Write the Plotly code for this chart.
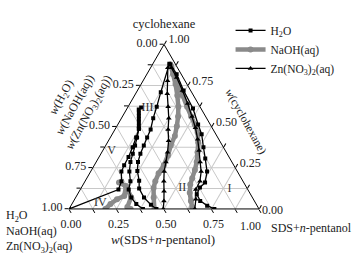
import plotly.graph_objects as go

# ---------------- data (cyclohexane, H2O/aq, SDS+n-pentanol mass fractions) ----------------
tick_vals = [0, 0.125, 0.25, 0.375, 0.5, 0.625, 0.75, 0.875, 1.0]
a_tick_labels = ["1.00", "", "0.75", "", "0.50", "", "0.25", "", "0.00"]   # left edge: w(H2O)
b_tick_labels = ["", "", "0.75", "", "0.50", "", "0.25", "", "0.00"]       # bottom edge: w(SDS+n-pentanol)
c_tick_labels = ["1.00", "", "0.75", "", "0.50", "", "0.25", "", ""]       # right edge: w(cyclohexane)
corner_labels = ["1.00", "0.00"]   # bottom-right corner values (SDS axis end, cyclohexane axis start)

# H2O system (boundary curves)
h2o_1_cyc = [0.882, 0.710, 0.621, 0.552, 0.483, 0.434, 0.385, 0.335, 0.286, 0.231, 0.172, 0.124, 0.069, 0.026, 0.0]
h2o_1_wat = [0.031, 0.162, 0.228, 0.281, 0.329, 0.372, 0.414, 0.457, 0.494, 0.525, 0.545, 0.569, 0.571, 0.556, 0.540]
h2o_1_sds = [0.087, 0.128, 0.151, 0.167, 0.188, 0.194, 0.201, 0.208, 0.220, 0.244, 0.283, 0.307, 0.360, 0.418, 0.460]

h2o_2_cyc = [0.617, 0.604, 0.585, 0.565, 0.545, 0.525, 0.505, 0.487, 0.434, 0.385, 0.335, 0.286, 0.227, 0.168, 0.118, 0.069, 0.030, 0.0]
h2o_2_wat = [0.312, 0.331, 0.340, 0.350, 0.360, 0.370, 0.380, 0.389, 0.425, 0.460, 0.497, 0.534, 0.569, 0.593, 0.627, 0.638, 0.631, 0.611]
h2o_2_sds = [0.071, 0.065, 0.075, 0.085, 0.095, 0.105, 0.115, 0.124, 0.141, 0.155, 0.168, 0.180, 0.204, 0.239, 0.255, 0.293, 0.339, 0.389]

h2o_3_cyc = [0.487, 0.434, 0.375, 0.316, 0.266, 0.227, 0.168, 0.118, 0.0]
h2o_3_wat = [0.389, 0.430, 0.478, 0.529, 0.577, 0.611, 0.640, 0.681, 1.0]
h2o_3_sds = [0.124, 0.136, 0.147, 0.155, 0.157, 0.162, 0.192, 0.201, 0.0]

h2o_4_cyc = [0.878, 0.819, 0.720, 0.611, 0.513, 0.454, 0.375, 0.306, 0.227, 0.160, 0.130, 0.089, 0.049, 0.020, 0.0]
h2o_4_wat = [0.028, 0.024, 0.037, 0.042, 0.064, 0.075, 0.105, 0.130, 0.160, 0.204, 0.246, 0.283, 0.285, 0.263, 0.235]
h2o_4_sds = [0.094, 0.157, 0.243, 0.347, 0.423, 0.471, 0.520, 0.564, 0.613, 0.636, 0.624, 0.628, 0.666, 0.717, 0.765]

# NaOH(aq) system
naoh_1_cyc = [0.878, 0.819, 0.759, 0.690, 0.621, 0.562, 0.503, 0.444, 0.385, 0.325, 0.266, 0.217, 0.168, 0.128, 0.069, 0.0]
naoh_1_wat = [0.028, 0.043, 0.060, 0.085, 0.114, 0.145, 0.181, 0.221, 0.272, 0.317, 0.368, 0.420, 0.462, 0.491, 0.520, 0.551]
naoh_1_sds = [0.094, 0.138, 0.181, 0.225, 0.265, 0.293, 0.316, 0.335, 0.343, 0.358, 0.366, 0.363, 0.370, 0.381, 0.411, 0.449]

naoh_2_cyc = [0.868, 0.819, 0.759, 0.690, 0.621, 0.562, 0.513, 0.464, 0.404, 0.345, 0.286, 0.237, 0.187, 0.148, 0.099, 0.049, 0.010]
naoh_2_wat = [0.029, 0.035, 0.047, 0.057, 0.068, 0.076, 0.082, 0.091, 0.118, 0.151, 0.185, 0.219, 0.258, 0.288, 0.315, 0.334, 0.346]
naoh_2_sds = [0.103, 0.146, 0.194, 0.253, 0.311, 0.362, 0.405, 0.445, 0.478, 0.504, 0.529, 0.544, 0.555, 0.564, 0.586, 0.617, 0.644]

naoh_3_cyc = [0.160, 0.138, 0.071, 0.012, 0.0]
naoh_3_wat = [0.657, 0.631, 0.638, 0.687, 0.676]
naoh_3_sds = [0.183, 0.231, 0.291, 0.301, 0.324]

naoh_4_cyc = [0.138, 0.079, 0.059, 0.030, 0.0]
naoh_4_wat = [0.631, 0.670, 0.718, 0.767, 0.809]
naoh_4_sds = [0.231, 0.251, 0.223, 0.203, 0.191]

# Zn(NO3)2(aq) system
zn_1_cyc = [0.858, 0.779, 0.700, 0.621, 0.552, 0.483, 0.414, 0.345, 0.286, 0.227, 0.168, 0.108, 0.049, 0.0]
zn_1_wat = [0.051, 0.092, 0.133, 0.168, 0.199, 0.237, 0.269, 0.309, 0.347, 0.386, 0.417, 0.446, 0.476, 0.504]
zn_1_sds = [0.091, 0.129, 0.167, 0.211, 0.249, 0.280, 0.317, 0.346, 0.367, 0.387, 0.415, 0.446, 0.475, 0.496]

zn_2_cyc = [0.858, 0.799, 0.720, 0.641, 0.562, 0.493, 0.424, 0.355, 0.286, 0.227, 0.168, 0.118, 0.059, 0.0]
zn_2_wat = [0.032, 0.034, 0.043, 0.055, 0.072, 0.088, 0.111, 0.138, 0.167, 0.191, 0.227, 0.274, 0.303, 0.338]
zn_2_sds = [0.110, 0.167, 0.237, 0.304, 0.366, 0.419, 0.465, 0.507, 0.547, 0.582, 0.605, 0.608, 0.638, 0.662]

# region labels
region_names = ["I", "II", "III", "IV", "V"]
region_cyc = [0.124, 0.130, 0.615, 0.036, 0.355]
region_wat = [0.093, 0.339, 0.279, 0.817, 0.599]
region_sds = [0.783, 0.531, 0.106, 0.147, 0.046]

# ---------------- figure ----------------
SERIF = "Liberation Serif"
TXT = "#222222"
fig = go.Figure()

def add_curve(cyc, wat, sds, name, group, line, marker, show, rank):
    fig.add_trace(go.Scatterternary(
        a=cyc, b=wat, c=sds, mode="lines+markers", name=name,
        legendgroup=group, showlegend=show, legendrank=rank,
        line=line, marker=marker, hoverinfo="skip"))

gray_line = dict(color="#8a8a8a", width=4.5)
gray_marker = dict(symbol="circle", size=6, color="#8a8a8a")
add_curve(naoh_1_cyc, naoh_1_wat, naoh_1_sds, "NaOH(aq)", "naoh", gray_line, gray_marker, True, 2)
add_curve(naoh_2_cyc, naoh_2_wat, naoh_2_sds, "NaOH(aq)", "naoh", gray_line, gray_marker, False, 2)
add_curve(naoh_3_cyc, naoh_3_wat, naoh_3_sds, "NaOH(aq)", "naoh", gray_line, gray_marker, False, 2)
add_curve(naoh_4_cyc, naoh_4_wat, naoh_4_sds, "NaOH(aq)", "naoh", gray_line, gray_marker, False, 2)

blk_line = dict(color="black", width=1.3)
sq_marker = dict(symbol="square", size=4, color="black")
h2o_name = "H<sub>2</sub>O"
add_curve(h2o_1_cyc, h2o_1_wat, h2o_1_sds, h2o_name, "h2o", blk_line, sq_marker, True, 1)
add_curve(h2o_2_cyc, h2o_2_wat, h2o_2_sds, h2o_name, "h2o", blk_line, sq_marker, False, 1)
add_curve(h2o_3_cyc, h2o_3_wat, h2o_3_sds, h2o_name, "h2o", blk_line, sq_marker, False, 1)
add_curve(h2o_4_cyc, h2o_4_wat, h2o_4_sds, h2o_name, "h2o", blk_line, sq_marker, False, 1)

tri_marker = dict(symbol="triangle-up", size=5, color="black")
zn_name = "Zn(NO<sub>3</sub>)<sub>2</sub>(aq)"
add_curve(zn_1_cyc, zn_1_wat, zn_1_sds, zn_name, "zn", blk_line, tri_marker, True, 3)
add_curve(zn_2_cyc, zn_2_wat, zn_2_sds, zn_name, "zn", blk_line, tri_marker, False, 3)

fig.add_trace(go.Scatterternary(
    a=region_cyc, b=region_wat, c=region_sds, mode="text", text=region_names,
    textfont=dict(family=SERIF, size=12, color="#333333"), showlegend=False, hoverinfo="skip"))

def axis_style(labels):
    return dict(
        tickmode="array", tickvals=tick_vals, ticktext=labels,
        ticks="outside", ticklen=4, tickcolor="black",
        linecolor="black", linewidth=1, showline=True,
        showgrid=True, gridcolor="#c8c8c8", gridwidth=0.8,
        tickfont=dict(family=SERIF, size=12, color=TXT),
    )

def note(text, x, y, size=12, angle=0, xanchor="center", align="center"):
    return dict(text=text, x=x / 352, y=1 - y / 257, xref="paper", yref="paper",
                xanchor=xanchor, yanchor="middle", align=align, textangle=angle,
                showarrow=False, font=dict(family=SERIF, size=size, color=TXT))

fig.update_layout(
    width=352, height=257,
    margin=dict(l=0, r=0, t=0, b=0),
    paper_bgcolor="white",
    font=dict(family=SERIF, size=12, color=TXT),
    ternary=dict(
        domain=dict(x=[0.196, 0.736], y=[0.187, 0.827]),
        bgcolor="white", sum=1,
        aaxis=dict(title=dict(text="cyclohexane", font=dict(family=SERIF, size=12.5)), **axis_style(a_tick_labels)),
        baxis=dict(title=dict(text=""), **axis_style(b_tick_labels)),
        caxis=dict(title=dict(text=""), **axis_style(c_tick_labels)),
    ),
    legend=dict(
        x=0.655, y=0.938, xanchor="left", yanchor="top",
        bgcolor="rgba(0,0,0,0)", font=dict(family=SERIF, size=11.5, color=TXT),
        tracegroupgap=0, itemwidth=30,
    ),
    annotations=[
        note(corner_labels[0], 250, 226),
        note(corner_labels[1], 272, 210),
        note("H<sub>2</sub>O<br>NaOH(aq)<br>Zn(NO<sub>3</sub>)<sub>2</sub>(aq)", 4, 231,
             xanchor="left", align="left"),
        note("SDS+<i>n</i>-pentanol", 269, 228, xanchor="left"),
        note("<i>w</i>(SDS+<i>n</i>-pentanol)", 163, 239, size=13),
        note("<i>w</i>(cyclohexane)", 246, 121, size=11.5, angle=61),
        note("<i>w</i>(H<sub>2</sub>O)<br><i>w</i>(NaOH(aq))<br><i>w</i>(Zn(NO<sub>3</sub>)<sub>2</sub>(aq))",
             75, 105, angle=-61),
    ],
)

fig.write_html("out.html", config={"displayModeBar": False},
               post_script="document.body.style.margin='0';")
